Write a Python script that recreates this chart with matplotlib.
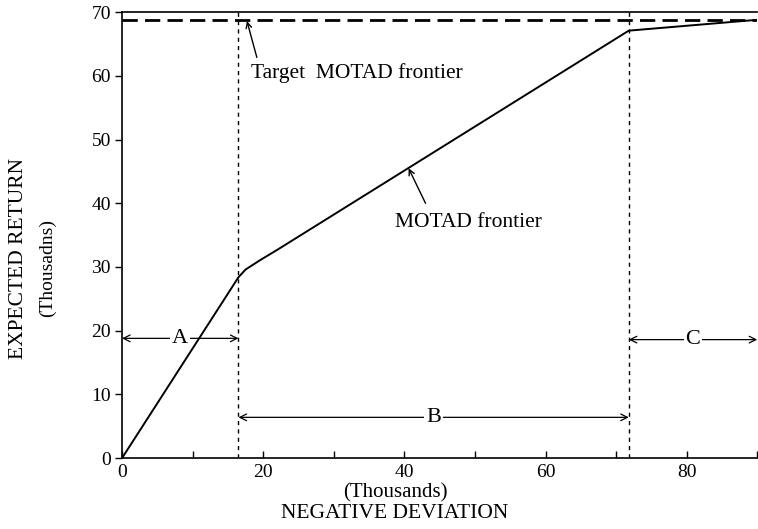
import matplotlib.pyplot as plt
from matplotlib.ticker import MultipleLocator

plt.rcParams['font.family'] = ['Liberation Serif', 'DejaVu Serif']

# MOTAD frontier (thousands)
frontier_dev = [0, 16.5, 17.5, 19.6, 22.0, 71.8, 90.0]
frontier_ret = [0, 28.4, 29.6, 31.1, 32.7, 67.1, 68.8]

# target MOTAD frontier level
target_ret = 68.8

# boundaries between regions A, B, C
bounds = [0, 16.5, 71.8, 90.0]
region_names = ['A', 'B', 'C']
region_y = [18.8, 6.4, 18.6]

fig = plt.figure(figsize=(7.58, 5.29), dpi=100)
ax = fig.add_axes([0.161, 0.134, 0.838, 0.843])

ax.plot(frontier_dev, frontier_ret, color='black', linewidth=1.4)

tline, = ax.plot([0, 90], [target_ret, target_ret], color='black', linewidth=2.0)
tline.set_dashes((5.5, 2.6))

for x in bounds[1:3]:
    vl, = ax.plot([x, x], [0, 70], color='black', linewidth=1.0)
    vl.set_dashes((3, 3))

# region arrows
for i, name in enumerate(region_names):
    x0, x1 = bounds[i], bounds[i + 1]
    y = region_y[i]
    ax.annotate('', xy=(x1, y), xytext=(x0, y),
                arrowprops=dict(arrowstyle='<->', color='black', lw=0.9,
                                shrinkA=0, shrinkB=0, mutation_scale=12))
    ax.text((x0 + x1) / 2, y, name, fontsize=16, ha='center', va='center',
            bbox=dict(facecolor='white', edgecolor='none', pad=1.5))

# labels with pointer arrows
ax.text(18.3, 60.4, 'Target  MOTAD frontier', fontsize=15.5, ha='left', va='center')
ax.annotate('', xy=(17.7, 68.6), xytext=(19.1, 62.9),
            arrowprops=dict(arrowstyle='->', color='black', lw=1.0,
                            shrinkA=0, shrinkB=0))
ax.text(38.7, 37.0, 'MOTAD frontier', fontsize=15.5, ha='left', va='center')
ax.annotate('', xy=(40.6, 45.5), xytext=(43.0, 40.0),
            arrowprops=dict(arrowstyle='->', color='black', lw=1.0,
                            shrinkA=0, shrinkB=0))

ax.set_xlim(0, 90)
ax.set_ylim(0, 70)
ax.xaxis.set_major_locator(MultipleLocator(20))
ax.xaxis.set_minor_locator(MultipleLocator(10))
ax.yaxis.set_major_locator(MultipleLocator(10))
ax.tick_params(axis='x', which='both', direction='in', length=5, width=1.0,
               labelsize=14, pad=4)
ax.tick_params(axis='y', which='both', direction='out', length=5, width=1.0,
               labelsize=14, pad=3)
ax.spines['right'].set_visible(False)
for s in ['left', 'bottom', 'top']:
    ax.spines[s].set_linewidth(1.2)

fig.text(0.522, 0.068, '(Thousands)', fontsize=15, ha='center', va='center')
fig.text(0.521, 0.030, 'NEGATIVE DEVIATION', fontsize=15.5, ha='center', va='center')
fig.text(0.024, 0.512, 'EXPECTED RETURN', fontsize=15.5, rotation=90,
         ha='center', va='center')
fig.text(0.063, 0.493, '(Thousadns)', fontsize=14, rotation=90,
         ha='center', va='center')

fig.savefig('out.png', dpi=100)
